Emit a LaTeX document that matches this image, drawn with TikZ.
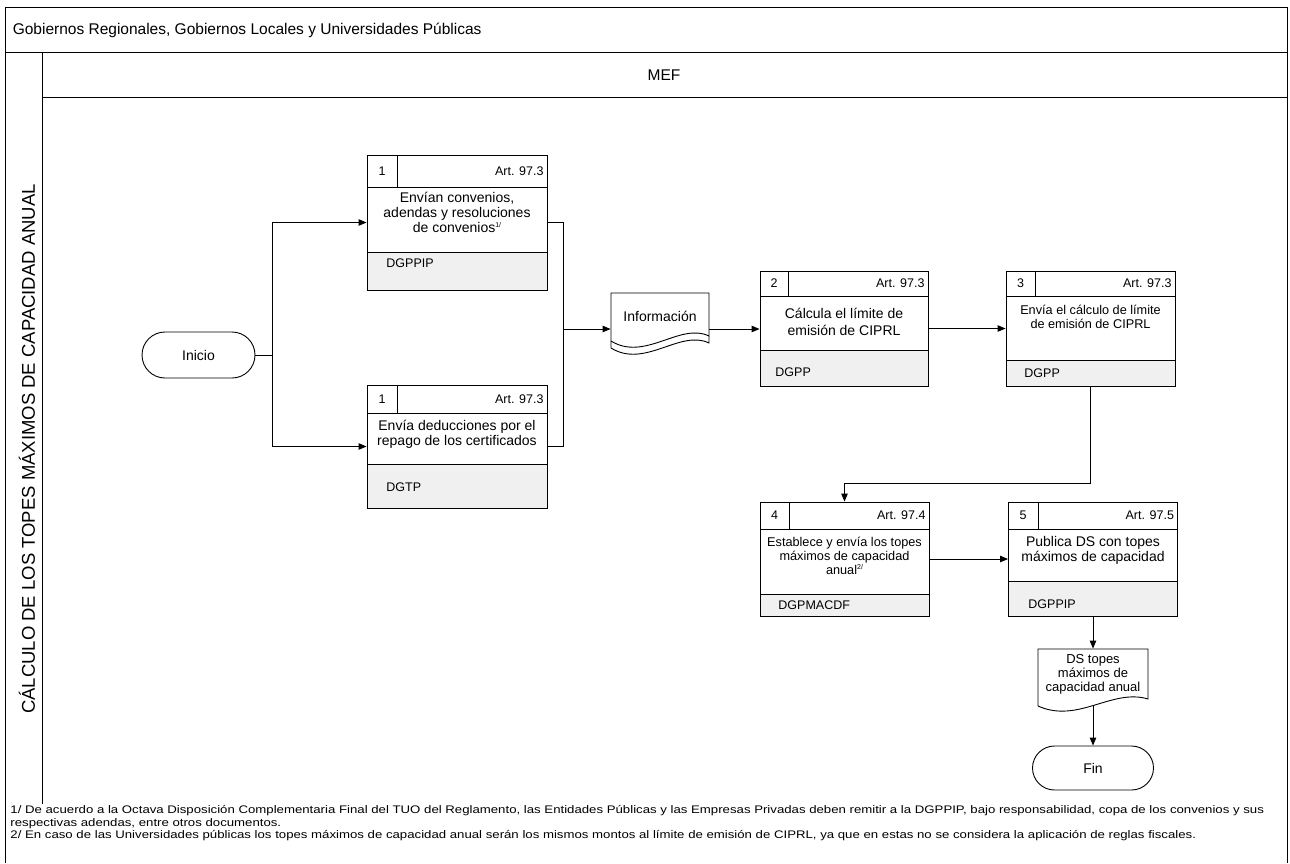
\documentclass[tikz,border=0pt]{standalone}
\usepackage{graphicx}
\usepackage{fontspec}
\setmainfont{Liberation Sans}
\usetikzlibrary{arrows.meta, shapes.misc}
\definecolor{unitgray}{RGB}{240,240,240}

\begin{document}
\begin{tikzpicture}[x=1pt, y=-1pt, line width=0.9pt,
        arr/.style={-{Triangle[length=8pt,width=6.5pt]}},
        stepbox/.style={draw, inner sep=0pt},
        txt/.style={font=\fontsize{14}{15}\selectfont, align=center, inner sep=0pt},
        txtsm/.style={font=\fontsize{12.7}{14}\selectfont, align=center, inner sep=0pt},
        small/.style={font=\fontsize{12.5}{14}\selectfont, inner sep=0pt},
        term/.style={draw, rounded rectangle, inner sep=0pt, font=\fontsize{14}{16}\selectfont}]
    \useasboundingbox (0,0) rectangle (1290,863);

    % Frame
    \draw (5,863) -- (5,7) -- (1287,7) -- (1287,863);
    \draw (5,52) -- (1287,52);
    \draw (42,52) -- (42,804);
    \draw (42,97) -- (1287,97);
    \node[anchor=west, font=\fontsize{15.5}{17}\selectfont] (pool) at (9,30) {Gobiernos Regionales, Gobiernos Locales y Universidades Públicas};
    \node[font=\fontsize{15.5}{17}\selectfont] (lane) at (664,75) {MEF};
    \node[rotate=90, font=\fontsize{18.5}{20}\selectfont] (phase) at (27,449) {CÁLCULO DE LOS TOPES MÁXIMOS DE CAPACIDAD ANUAL};

    % Start
    \node[term, minimum width=113pt, minimum height=46pt] (inicio) at (198.5,355) {Inicio};

    % Step 1 (convenios)
    \node[stepbox, minimum width=180pt, minimum height=135pt] (s1a) at (457,222.5) {};
    \draw[fill=unitgray] (367,252) rectangle (547,290);
    \draw (367,187) -- (547,187);
    \draw (397,155) -- (397,187);
    \node[small] (n1a) at (382,171) {1};
    \node[small, anchor=east] (a1a) at (544,171) {Art. 97.3};
    \node[txt] (t1a) at (457,212) {Envían convenios,\\adendas y resoluciones\\de convenios\raisebox{5pt}{\fontsize{7}{7}\selectfont 1/}};
    \node[small, anchor=west] (u1a) at (386,263) {DGPPIP};

    % Step 1 (deducciones)
    \node[stepbox, minimum width=180pt, minimum height=123pt] (s1b) at (457,446.5) {};
    \draw[fill=unitgray] (367,464) rectangle (547,508);
    \draw (367,413) -- (547,413);
    \draw (397,385) -- (397,413);
    \node[small] (n1b) at (382,399) {1};
    \node[small, anchor=east] (a1b) at (544,399) {Art. 97.3};
    \node[txt] (t1b) at (457,434.5) {Envía deducciones por el\\repago de los certificados};
    \node[small, anchor=west] (u1b) at (386,487) {DGTP};

    % Document
    \node[minimum width=98pt, minimum height=50pt, inner sep=0pt] (info) at (660,329) {};
    \draw (611,341) -- (611,293) -- (709,293) -- (709,336) .. controls (680,322) and (645,362) .. (611,341);
    \draw (611,341) -- (611,348) .. controls (645,369) and (680,329) .. (709,343) -- (709,336);
    \node[txt] (infotxt) at (660,316) {Información};

    % Step 2
    \node[stepbox, minimum width=168pt, minimum height=115pt] (s2) at (844,328.5) {};
    \draw[fill=unitgray] (760,350) rectangle (928,386);
    \draw (760,296) -- (928,296);
    \draw (788,271) -- (788,296);
    \node[small] (n2) at (774,283.5) {2};
    \node[small, anchor=east] (a2) at (925,283.5) {Art. 97.3};
    \node[txt, font=\fontsize{14}{17}\selectfont] (t2) at (844,322) {Cálcula el límite de\\emisión de CIPRL};
    \node[small, anchor=west] (u2) at (775,372) {DGPP};

    % Step 3
    \node[stepbox, minimum width=169pt, minimum height=115pt] (s3) at (1090.5,328.5) {};
    \draw[fill=unitgray] (1006,360) rectangle (1175,386);
    \draw (1006,296) -- (1175,296);
    \draw (1035,271) -- (1035,296);
    \node[small] (n3) at (1020.5,283.5) {3};
    \node[small, anchor=east] (a3) at (1172,283.5) {Art. 97.3};
    \node[txtsm] (t3) at (1090.5,317) {Envía el cálculo de límite\\de emisión de CIPRL};
    \node[small, anchor=west] (u3) at (1024,373) {DGPP};

    % Step 4
    \node[stepbox, minimum width=169pt, minimum height=114pt] (s4) at (844.5,559) {};
    \draw[fill=unitgray] (760,594) rectangle (929,616);
    \draw (760,529) -- (929,529);
    \draw (789,502) -- (789,529);
    \node[small] (n4) at (774.5,515.5) {4};
    \node[small, anchor=east] (a4) at (926,515.5) {Art. 97.4};
    \node[txtsm] (t4) at (844.5,556) {Establece y envía los topes\\máximos de capacidad\\anual\raisebox{5pt}{\fontsize{7}{7}\selectfont 2/}};
    \node[small, anchor=west] (u4) at (778,605) {DGPMACDF};

    % Step 5
    \node[stepbox, minimum width=169pt, minimum height=114pt] (s5) at (1093,559) {};
    \draw[fill=unitgray] (1008.5,581) rectangle (1177.5,616);
    \draw (1008.5,529) -- (1177.5,529);
    \draw (1038,502) -- (1038,529);
    \node[small] (n5) at (1023,515.5) {5};
    \node[small, anchor=east] (a5) at (1174.5,515.5) {Art. 97.5};
    \node[txt] (t5) at (1093,550) {Publica DS con topes\\máximos de capacidad};
    \node[small, anchor=west] (u5) at (1028,604) {DGPPIP};

    % Output document and end
    \node[txt, font=\fontsize{13}{14}\selectfont, minimum width=110pt, minimum height=50pt] (ds) at (1093,674) {DS topes\\máximos de\\capacidad anual};
    \draw (1038,706) -- (1038,649) -- (1148,649) -- (1148,699) .. controls (1112,688) and (1078,724) .. (1038,706);
    \node[term, minimum width=121pt, minimum height=44pt] (fin) at (1093,768) {Fin};

    % Connectors
    \coordinate (split) at (272,355);
    \coordinate (merge) at (563,329);
    \draw[arr] (inicio.east) -- (split) |- (s1a.west);
    \draw[arr] (split) |- (s1b.west);
    \draw (s1a.east) -| (merge);
    \draw (s1b.east) -| (merge);
    \draw[arr] (merge) -- (merge -| info.west);
    \draw[arr] (info.east) -- (info.east -| s2.west);
    \draw[arr] (s2.east) -- (s3.west);
    \draw[arr] (s3.south) -- ++(0,97) -| (s4.north);
    \draw[arr] (s4.east) -- (s5.west);
    \draw[arr] (s5.south) -- (ds.north);
    \draw[arr] (ds.south) ++(0,6) -- (fin.north);

    % Notes
    \node[anchor=north west, align=left, inner sep=0pt, font=\fontsize{11}{12.5}\selectfont] (notes) at (10,805) {\scalebox{1.2}[1]{1/ De acuerdo a la Octava Disposición Complementaria Final del TUO del Reglamento, las Entidades Públicas y las Empresas Privadas deben remitir a la DGPPIP, bajo responsabilidad, copa de los convenios y sus}\\\scalebox{1.2}[1]{respectivas adendas, entre otros documentos.}\\\scalebox{1.2}[1]{2/ En caso de las Universidades públicas los topes máximos de capacidad anual serán los mismos montos al límite de emisión de CIPRL, ya que en estas no se considera la aplicación de reglas fiscales.}};
\end{tikzpicture}
\end{document}
